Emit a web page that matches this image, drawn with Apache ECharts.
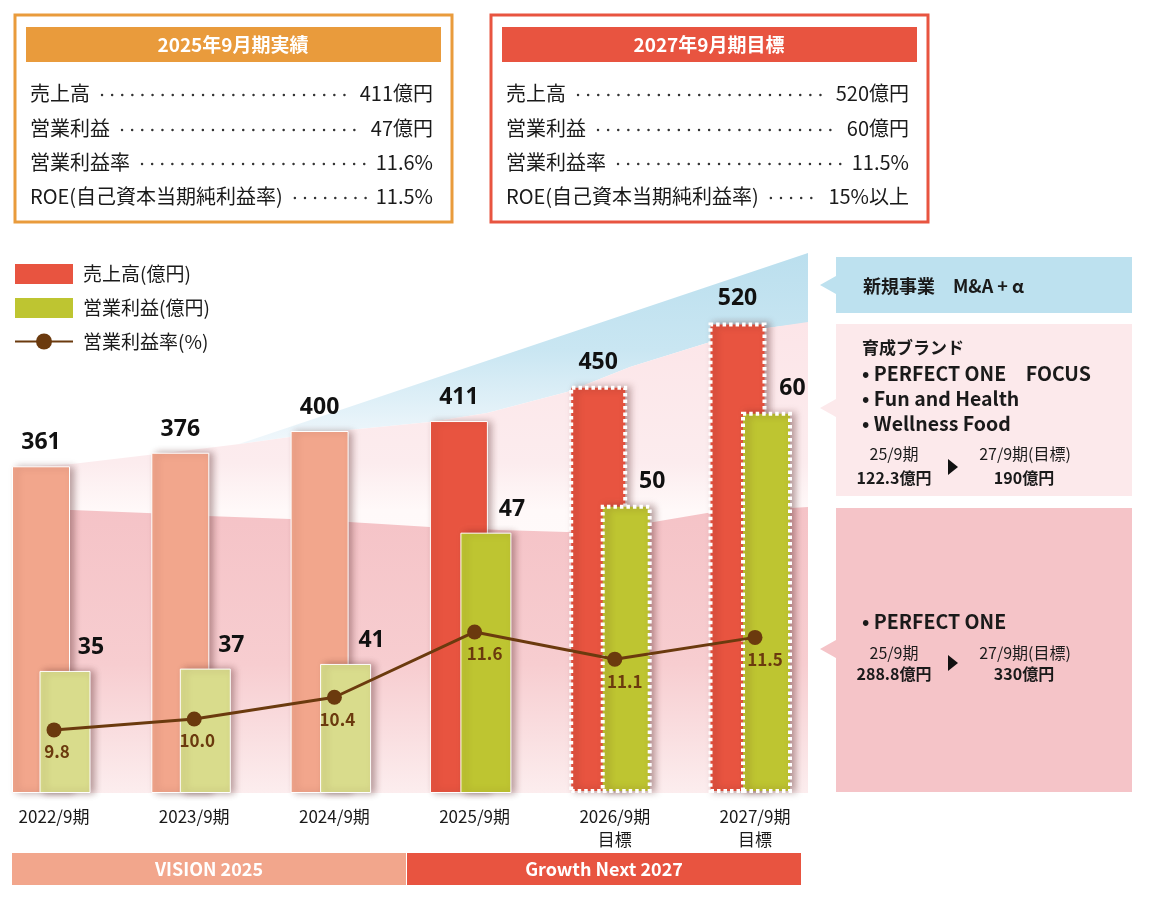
<!DOCTYPE html>
<html>
<head>
<meta charset="utf-8">
<script src="https://cdn.jsdelivr.net/npm/echarts@6/dist/echarts.min.js"></script>
<style>html,body{margin:0;padding:0;background:#fff}</style>
</head>
<body>
<div id="main" style="width:1153px;height:898px"></div>
<script>
// data
const years = ['2022/9期', '2023/9期', '2024/9期', '2025/9期', '2026/9期\n目標', '2027/9期\n目標'];
const sales = [361, 376, 400, 411, 450, 520];
const profitPast = [35, 37, 41, '-', '-', '-'];
const profitPlan = ['-', '-', '-', 47, 50, 60];
const margin = [9.8, 10.0, 10.4, 11.6, 11.1, 11.5];

const rowLabels = ['売上高', '営業利益', '営業利益率', 'ROE(自己資本当期純利益率)'];
const actual2025 = ['411億円', '47億円', '11.6%', '11.5%'];
const target2027 = ['520億円', '60億円', '11.5%', '15%以上'];

const JP = '"Noto Sans CJK JP", sans-serif';
const PALE_RED = '#F2A68C', RED = '#E85440', PALE_GREEN = '#D9DC8C', GREEN = '#BEC531', BROWN = '#6B3A0E';
const ORANGE = '#E99B3C';

const chart = echarts.init(document.getElementById('main'));

const ctx = document.createElement('canvas').getContext('2d');
function textW(s, size, weight) {
  ctx.font = (weight || 'normal') + ' ' + size + 'px ' + JP;
  return ctx.measureText(s).width;
}

// past years pale, 2025 solid, plan years dashed white border
function barStyle(i, pale, strong) {
  const base = { shadowBlur: 7, shadowColor: 'rgba(80,30,30,0.4)', shadowOffsetX: 4, shadowOffsetY: 0 };
  if (i < 3) return Object.assign(base, { color: pale, borderColor: '#fff', borderWidth: 1 });
  if (i === 3) return Object.assign(base, { color: strong, borderColor: '#fff', borderWidth: 1 });
  return Object.assign(base, { color: strong, borderColor: '#fff', borderWidth: 4, borderType: [3.5, 3] });
}
const toBar = (arr, pale, strong) => arr.map((v, i) => v === '-' ? '-' : { value: v, itemStyle: barStyle(i, pale, strong) });

const valLabel = { show: true, position: 'top', distance: 12, fontSize: 23, fontWeight: 'bold', color: '#111', fontFamily: 'Noto Sans' };

function txt(x, y, text, size, opts) {
  return {
    type: 'text', x: x, y: y, z: 1,
    style: Object.assign({ text: text, fontSize: size, fontFamily: JP, fill: '#1a1a1a', align: 'left', verticalAlign: 'middle' }, opts || {})
  };
}

const rowY = [93, 128, 162, 196];
function statBox(x, color, title, values) {
  const els = [
    { type: 'rect', z: 1, shape: { x: x, y: 15, width: 437, height: 207 }, style: { fill: '#fff', stroke: color, lineWidth: 3 } },
    { type: 'rect', z: 1, shape: { x: x + 11, y: 27, width: 415, height: 35 }, style: { fill: color } },
    txt(x + 218, 45, title, 19, { fill: '#fff', fontWeight: 'bold', align: 'center' })
  ];
  rowLabels.forEach((lab, i) => {
    const y = rowY[i], lx = x + 15, rx = x + 418;
    const lw = textW(lab, 20), vw = textW(values[i], 20);
    els.push(txt(lx, y, lab, 20));
    els.push(txt(rx, y, values[i], 20, { align: 'right' }));
    els.push({
      type: 'line', z: 1,
      shape: { x1: lx + lw + 12, y1: y + 2, x2: rx - vw - 10, y2: y + 2 },
      style: { stroke: '#333', lineWidth: 2.4, lineDash: [0.1, 10], lineCap: 'round' }
    });
  });
  return els;
}

function callout(y0, y1, tip, fill) {
  return {
    type: 'polygon', z: 1,
    shape: { points: [[836, y0], [1132, y0], [1132, y1], [836, y1], [836, tip + 9], [820, tip], [836, tip - 9]] },
    style: { fill: fill }
  };
}
function arrowHead(x, y) {
  return { type: 'polygon', z: 1, shape: { points: [[x - 5, y - 8], [x + 5, y], [x - 5, y + 8]] }, style: { fill: '#111' } };
}

const background = [
  { // blue wedge
    type: 'polygon', z: 0,
    shape: { points: [[233, 446], [808, 253], [808, 323], [767, 328], [707, 343], [630, 367], [567, 392], [487, 413], [430, 422], [349, 430], [290, 437], [240, 444]] },
    style: { fill: { type: 'linear', x: 0, y: 0, x2: 0, y2: 1, colorStops: [{ offset: 0, color: '#BBDFEE' }, { offset: 0.5, color: '#C9E6F2' }, { offset: 1, color: '#F2F8FC' }] } }
  },
  { // light pink
    type: 'polygon', z: 0,
    shape: { points: [[14, 467], [72, 464], [207, 448], [240, 444], [290, 437], [349, 430], [430, 422], [487, 413], [567, 392], [630, 367], [707, 343], [767, 328], [808, 322], [808, 793], [14, 793]] },
    style: { fill: { type: 'linear', x: 0, y: 0, x2: 0, y2: 1, colorStops: [{ offset: 0, color: '#FCE5E8' }, { offset: 0.3, color: '#FCECEE' }, { offset: 0.4, color: '#FFF9F9' }, { offset: 1, color: '#FFFFFF' }] } }
  },
  { // deep pink
    type: 'polygon', z: 0,
    shape: { points: [[14, 510], [72, 510], [147, 513], [207, 516], [290, 519], [349, 522], [430, 527], [500, 530], [567, 532], [630, 526], [707, 513], [808, 507], [808, 793], [14, 793]] },
    style: { fill: { type: 'linear', x: 0, y: 0, x2: 0, y2: 1, colorStops: [{ offset: 0, color: '#F5C3C7' }, { offset: 0.55, color: '#F7CDD0' }, { offset: 1, color: '#FCEDEE' }] } }
  }
];

const side = [
  callout(257, 313, 285, '#BDE1EF'),
  txt(863, 286, '新規事業　M&A + α', 18, { fontWeight: 'bold' }),
  callout(324, 496, 408, '#FCE9EB'),
  txt(862, 348, '育成ブランド', 17, { fontWeight: 'bold' }),
  txt(862, 374, '• PERFECT ONE　FOCUS', 19.5, { fontWeight: 'bold' }),
  txt(862, 399, '• Fun and Health', 19.5, { fontWeight: 'bold' }),
  txt(862, 424, '• Wellness Food', 19.5, { fontWeight: 'bold' }),
  txt(894, 454, '25/9期', 16, { align: 'center' }),
  txt(894, 478, '122.3億円', 16, { align: 'center', fontWeight: 'bold' }),
  arrowHead(953, 467),
  txt(1025, 454, '27/9期(目標)', 16, { align: 'center' }),
  txt(1024, 478, '190億円', 16, { align: 'center', fontWeight: 'bold' }),
  callout(508, 792, 649, '#F5C4C8'),
  txt(862, 622, '• PERFECT ONE', 19.5, { fontWeight: 'bold' }),
  txt(894, 653, '25/9期', 16, { align: 'center' }),
  txt(894, 674, '288.8億円', 16, { align: 'center', fontWeight: 'bold' }),
  arrowHead(953, 663),
  txt(1025, 653, '27/9期(目標)', 16, { align: 'center' }),
  txt(1024, 674, '330億円', 16, { align: 'center', fontWeight: 'bold' })
];

const bands = [
  { type: 'rect', z: 1, shape: { x: 12, y: 853, width: 394, height: 32 }, style: { fill: PALE_RED } },
  txt(209, 869, 'VISION 2025', 18, { fill: '#fff', fontWeight: 'bold', align: 'center' }),
  { type: 'rect', z: 1, shape: { x: 407, y: 853, width: 394, height: 32 }, style: { fill: RED } },
  txt(604, 869, 'Growth Next 2027', 18, { fill: '#fff', fontWeight: 'bold', align: 'center' })
];

const hiddenX = (gi, showLabels) => ({
  type: 'category', gridIndex: gi, data: years, boundaryGap: false,
  axisLine: { show: false }, axisTick: { show: false }, splitLine: { show: false },
  axisLabel: { show: showLabels, margin: 12, fontSize: 17, lineHeight: 23, color: '#1a1a1a', fontFamily: JP }
});
const gridBox = (left, right) => ({ left: left, right: right, top: 250, bottom: 105, outerBoundsMode: 'none', containLabel: false });

chart.setOption({
  animation: false,
  backgroundColor: '#fff',
  legend: {
    orient: 'vertical', left: 14, top: 264, padding: 0,
    itemWidth: 58, itemHeight: 20, itemGap: 14, selectedMode: false,
    textStyle: { fontSize: 19, color: '#1a1a1a', fontFamily: JP, padding: [0, 0, 0, 5] },
    data: [
      { name: '売上高(億円)', icon: 'rect', itemStyle: { color: RED, borderWidth: 0, shadowBlur: 0 } },
      { name: '営業利益(億円)', icon: 'rect', itemStyle: { color: GREEN, borderWidth: 0, shadowBlur: 0 } },
      { name: '営業利益率(%)' }
    ]
  },
  grid: [gridBox(41, 415.5), gridBox(65, 386.5), gridBox(54, 398)],
  xAxis: [hiddenX(0, false), hiddenX(1, false), hiddenX(2, true)],
  yAxis: [
    { type: 'value', gridIndex: 0, min: 0, max: 600, show: false },
    { type: 'value', gridIndex: 1, min: -69.6, max: 395.7, startValue: -69.6, show: false },
    { type: 'value', gridIndex: 1, min: 19, max: 77.4, startValue: 19, show: false },
    { type: 'value', gridIndex: 2, min: 8.64, max: 18.62, show: false }
  ],
  graphic: background.concat(statBox(15, ORANGE, '2025年9月期実績', actual2025))
    .concat(statBox(491, RED, '2027年9月期目標', target2027))
    .concat(side).concat(bands),
  series: [
    {
      name: '売上高(億円)', type: 'bar', xAxisIndex: 0, yAxisIndex: 0, barWidth: 58, clip: false,
      itemStyle: { color: RED }, label: valLabel,
      data: toBar(sales, PALE_RED, RED)
    },
    {
      name: '営業利益(億円)', type: 'bar', xAxisIndex: 1, yAxisIndex: 1, barWidth: 51, barGap: '-100%', clip: false,
      itemStyle: { color: PALE_GREEN }, label: Object.assign({}, valLabel, { offset: [26, 0] }),
      data: toBar(profitPast, PALE_GREEN, GREEN)
    },
    {
      name: '営業利益(億円)', type: 'bar', xAxisIndex: 1, yAxisIndex: 2, barWidth: 51, barGap: '-100%', clip: false,
      itemStyle: { color: GREEN }, label: Object.assign({}, valLabel, { offset: [26, 0] }),
      data: toBar(profitPlan, PALE_GREEN, GREEN)
    },
    {
      name: '営業利益率(%)', type: 'line', xAxisIndex: 2, yAxisIndex: 3, clip: false, z: 5,
      symbol: 'circle', symbolSize: 15,
      lineStyle: { color: BROWN, width: 3 }, itemStyle: { color: BROWN },
      label: {
        show: true, position: 'bottom', distance: 6, fontSize: 17, fontWeight: 'bold', color: BROWN, fontFamily: JP,
        formatter: p => Number(p.value).toFixed(1)
      },
      data: margin.map((v, i) => ({ value: v, label: { offset: [i < 3 ? 3 : 10, 0] } }))
    }
  ]
});
</script>
</body>
</html>
